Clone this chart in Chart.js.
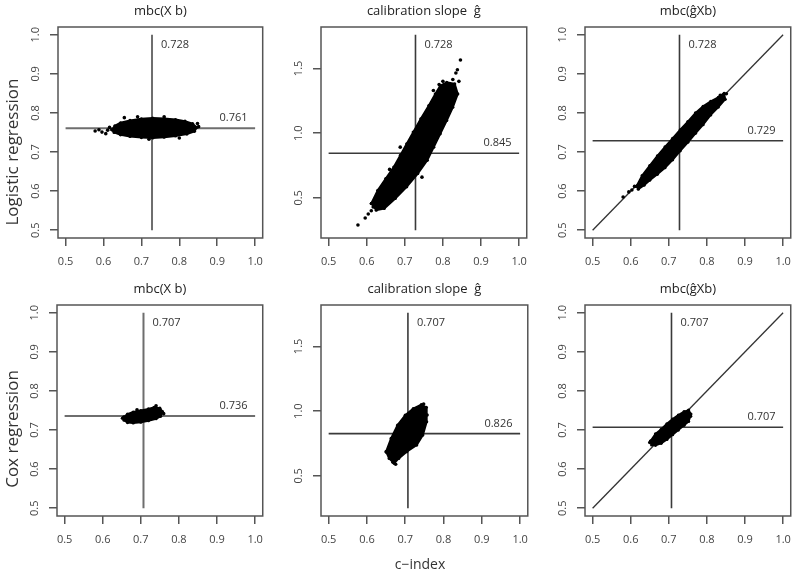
<!DOCTYPE html>
<html>
<head>
<meta charset="utf-8">
<script src="https://cdn.jsdelivr.net/npm/chart.js@4/dist/chart.umd.min.js"></script>
<style>
  body { margin: 0; background: #fff; }
  #wrap { position: relative; width: 800px; height: 569px; overflow: hidden; font-family: "Open Sans", sans-serif; }
  #wrap canvas { position: absolute; }
  .rowlab { position: absolute; font-size: 17px; color: #333; white-space: nowrap; transform: translate(-50%, -50%) rotate(-90deg); }
  #xlab { position: absolute; font-size: 14px; color: #333; white-space: nowrap; transform: translate(-50%, -50%); }
</style>
</head>
<body>
<div id="wrap"></div>
<script>
const cIndexTicks = [0.5, 0.6, 0.7, 0.8, 0.9, 1.0];
const mbcTicks = [0.5, 0.6, 0.7, 0.8, 0.9, 1.0];
const slopeTicks = [0.5, 1.0, 1.5];
const panelTitles = ["mbc(X b)", "calibration slope  ĝ", "mbc(ĝXb)"];
const rowLabels = ["Logistic regression", "Cox regression"];
const xLabel = "c−index";

const logCIndex = 0.728;
const logMeans = [0.761, 0.845, 0.729];
const coxCIndex = 0.707;
const coxMeans = [0.736, 0.826, 0.707];

const mbcLineRange = [0.5, 1.0];
const slopeLineRange = [0.25, 1.76];

// outlines of the dense clouds of bootstrap points (c-index, value)
const logMbcCloud = [[0.622,0.757],[0.630,0.767],[0.645,0.775],[0.670,0.781],[0.700,0.785],[0.730,0.787],[0.760,0.786],[0.790,0.783],[0.815,0.779],[0.835,0.773],[0.846,0.763],[0.840,0.753],[0.820,0.746],[0.790,0.741],[0.760,0.738],[0.730,0.736],[0.700,0.737],[0.670,0.740],[0.645,0.744],[0.628,0.750]];
const logMbcStray = [[0.578,0.754],[0.588,0.757],[0.596,0.751],[0.606,0.747],[0.611,0.756],[0.616,0.763],[0.851,0.765],[0.848,0.773],[0.655,0.788],[0.800,0.736],[0.690,0.790],[0.760,0.790],[0.720,0.733]];

const logSlopeCloud = [[0.612,0.457],[0.629,0.559],[0.650,0.649],[0.671,0.738],[0.688,0.828],[0.705,0.918],[0.722,1.008],[0.742,1.111],[0.763,1.213],[0.780,1.303],[0.793,1.367],[0.810,1.392],[0.831,1.380],[0.839,1.303],[0.826,1.200],[0.810,1.098],[0.793,0.995],[0.776,0.892],[0.759,0.790],[0.734,0.688],[0.705,0.585],[0.675,0.495],[0.646,0.418],[0.625,0.405]];
const logSlopeStray = [[0.577,0.29],[0.596,0.345],[0.604,0.375],[0.612,0.40],[0.617,0.43],[0.688,0.892],[0.846,1.565],[0.838,1.49],[0.834,1.465],[0.826,1.415],[0.842,1.40],[0.790,1.375],[0.775,1.33],[0.800,1.40],[0.660,0.720],[0.745,0.660]];

const logGXbCloud = [[0.615,0.612],[0.630,0.640],[0.650,0.665],[0.670,0.690],[0.690,0.713],[0.710,0.735],[0.730,0.757],[0.750,0.778],[0.770,0.800],[0.790,0.817],[0.810,0.830],[0.830,0.840],[0.845,0.850],[0.848,0.835],[0.830,0.815],[0.810,0.795],[0.790,0.770],[0.770,0.748],[0.750,0.725],[0.730,0.703],[0.710,0.680],[0.690,0.660],[0.670,0.643],[0.650,0.628],[0.635,0.615],[0.620,0.605]];
const logGXbStray = [[0.580,0.585],[0.595,0.598],[0.603,0.603],[0.610,0.612],[0.851,0.849],[0.842,0.846],[0.835,0.845]];

const coxMbcCloud = [[0.655,0.733],[0.665,0.741],[0.680,0.746],[0.700,0.750],[0.720,0.754],[0.735,0.758],[0.750,0.756],[0.757,0.747],[0.752,0.735],[0.740,0.729],[0.720,0.724],[0.700,0.720],[0.680,0.718],[0.665,0.719],[0.656,0.725]];
const coxMbcStray = [[0.652,0.730],[0.760,0.742],[0.740,0.762],[0.690,0.752]];

const coxSlopeCloud = [[0.650,0.687],[0.663,0.789],[0.680,0.892],[0.700,0.969],[0.721,1.020],[0.742,1.050],[0.755,1.030],[0.756,0.918],[0.746,0.815],[0.730,0.738],[0.704,0.687],[0.683,0.635],[0.671,0.597],[0.658,0.635]];
const coxSlopeStray = [[0.668,0.605],[0.675,0.590],[0.652,0.680],[0.748,1.055],[0.757,0.970]];

const coxGXbCloud = [[0.652,0.672],[0.665,0.690],[0.680,0.702],[0.695,0.716],[0.710,0.728],[0.725,0.738],[0.740,0.747],[0.752,0.751],[0.758,0.741],[0.752,0.722],[0.740,0.712],[0.725,0.700],[0.710,0.688],[0.695,0.676],[0.680,0.666],[0.665,0.661],[0.655,0.662]];
const coxGXbStray = [[0.650,0.668],[0.757,0.735]];

// plot boxes on the page: left, top, right, bottom
const boxes = [
  [58, 27, 271, 238], [321, 27, 535, 238], [585, 27, 799, 238],
  [57, 305, 271, 516], [321, 305, 536, 516], [585, 305, 799, 516],
];
const AXIS_W = 56, AXIS_H = 45, PAD_TOP = 27, PAD_RIGHT = 1;
const FONT = '"Open Sans", sans-serif';

const pts = (arr) => arr.map(([x, y]) => ({ x, y }));

const panelText = {
  id: "panelText",
  afterDraw(chart, args, opts) {
    const { ctx, chartArea: a, scales: { x, y } } = chart;
    ctx.save();
    ctx.strokeStyle = "#555";
    ctx.lineWidth = 1.5;
    ctx.strokeRect(a.left, a.top, a.right - a.left, a.bottom - a.top);

    ctx.fillStyle = "#222";
    ctx.font = "13px " + FONT;
    ctx.textAlign = "center";
    ctx.textBaseline = "middle";
    ctx.fillText(opts.title, (a.left + a.right) / 2, a.top - 16);

    ctx.font = "11px " + FONT;
    ctx.fillStyle = "#333";
    ctx.textAlign = "left";
    ctx.fillText(opts.cIndex.toFixed(3), x.getPixelForValue(opts.cIndex) + 9, y.getPixelForValue(opts.vRange[1]) + 10);
    ctx.textAlign = "right";
    ctx.fillText(opts.mean.toFixed(3), x.getPixelForValue(0.98), y.getPixelForValue(opts.mean) - 10);
    ctx.restore();
  },
};

function makePanel(i, p) {
  const [l, t, r, b] = boxes[i];
  const w = r - l + AXIS_W + PAD_RIGHT;
  const h = b - t + PAD_TOP + AXIS_H;
  const canvas = document.createElement("canvas");
  canvas.width = w;
  canvas.height = h;
  canvas.style.left = l - AXIS_W + "px";
  canvas.style.top = t - PAD_TOP + "px";
  document.getElementById("wrap").appendChild(canvas);

  const datasets = [
    {
      data: pts(p.cloud.concat([p.cloud[0]])),
      showLine: true,
      fill: "shape",
      backgroundColor: "#000",
      borderColor: "#000",
      borderWidth: 2,
      pointRadius: 1.6,
      pointBackgroundColor: "#000",
      pointBorderWidth: 0,
    },
    {
      data: pts(p.stray),
      pointRadius: 1.8,
      pointBackgroundColor: "#000",
      pointBorderWidth: 0,
    },
    {
      data: [{ x: p.cIndex, y: p.vRange[0] }, { x: p.cIndex, y: p.vRange[1] }],
      showLine: true,
      borderColor: p.lineColor,
      borderWidth: p.lineWidth,
      pointRadius: 0,
    },
    {
      data: [{ x: 0.5, y: p.mean }, { x: 1.0, y: p.mean }],
      showLine: true,
      borderColor: p.lineColor,
      borderWidth: p.lineWidth,
      pointRadius: 0,
    },
  ];
  if (p.diagonal) {
    datasets.push({
      data: [{ x: 0.5, y: 0.5 }, { x: 1.0, y: 1.0 }],
      showLine: true,
      borderColor: "#333",
      borderWidth: 1.3,
      pointRadius: 0,
    });
  }

  const gridOpts = { drawOnChartArea: false, drawTicks: true, tickLength: 8, color: "#555", lineWidth: 1.5 };

  return new Chart(canvas, {
    type: "scatter",
    data: { datasets },
    options: {
      responsive: false,
      animation: false,
      events: [],
      layout: { padding: { top: PAD_TOP, right: PAD_RIGHT, left: 0, bottom: 0 } },
      plugins: {
        legend: { display: false },
        tooltip: { enabled: false },
        panelText: { title: p.title, cIndex: p.cIndex, mean: p.mean, vRange: p.vRange },
      },
      scales: {
        x: {
          type: "linear",
          min: 0.48,
          max: 1.02,
          afterBuildTicks: (s) => { s.ticks = cIndexTicks.map((v) => ({ value: v })); },
          afterFit: (s) => { s.height = AXIS_H; },
          grid: gridOpts,
          border: { display: false },
          ticks: { color: "#444", font: { family: FONT, size: 11 }, padding: 9, maxRotation: 0, callback: (v) => v.toFixed(1) },
        },
        y: {
          type: "linear",
          min: p.yMin,
          max: p.yMax,
          afterBuildTicks: (s) => { s.ticks = p.yTicks.map((v) => ({ value: v })); },
          afterFit: (s) => { s.width = AXIS_W; },
          grid: gridOpts,
          border: { display: false },
          ticks: { color: "#444", font: { family: FONT, size: 11 }, padding: 6, minRotation: 90, maxRotation: 90, crossAlign: "center", callback: (v) => v.toFixed(1) },
        },
      },
    },
    plugins: [panelText],
  });
}

const clouds = [
  [logMbcCloud, logMbcStray], [logSlopeCloud, logSlopeStray], [logGXbCloud, logGXbStray],
  [coxMbcCloud, coxMbcStray], [coxSlopeCloud, coxSlopeStray], [coxGXbCloud, coxGXbStray],
];

for (let i = 0; i < 6; i++) {
  const row = Math.floor(i / 3), col = i % 3;
  const cIndex = row === 0 ? logCIndex : coxCIndex;
  const mean = (row === 0 ? logMeans : coxMeans)[col];
  const isSlope = col === 1;
  makePanel(i, {
    title: panelTitles[col],
    cloud: clouds[i][0],
    stray: clouds[i][1],
    cIndex,
    mean,
    vRange: isSlope ? slopeLineRange : mbcLineRange,
    yMin: isSlope ? 0.19 : 0.48,
    yMax: isSlope ? 1.82 : 1.02,
    yTicks: isSlope ? slopeTicks : mbcTicks,
    diagonal: col === 2,
    lineColor: col === 0 ? "#6e6e6e" : "#3a3a3a",
    lineWidth: col === 0 ? 2 : 1.6,
  });
}

const wrap = document.getElementById("wrap");
[152, 429].forEach((cy, k) => {
  const d = document.createElement("div");
  d.className = "rowlab";
  d.textContent = rowLabels[k];
  d.style.left = "11px";
  d.style.top = cy + "px";
  wrap.appendChild(d);
});
const xl = document.createElement("div");
xl.id = "xlab";
xl.textContent = xLabel;
xl.style.left = "420px";
xl.style.top = "563px";
wrap.appendChild(xl);
</script>
</body>
</html>
